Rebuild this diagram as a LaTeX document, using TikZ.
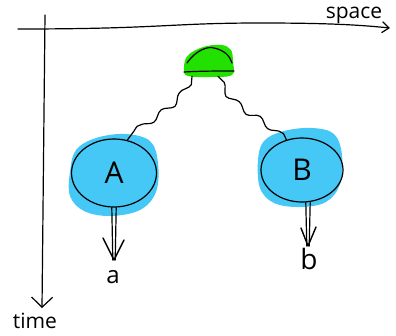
\documentclass[tikz,border=0pt]{standalone}
\usepackage{fontspec}
\setmainfont{Open Sans}
\usetikzlibrary{arrows.meta,decorations.pathmorphing,shapes.geometric,calc}
\definecolor{blobblue}{HTML}{45C8F5}
\definecolor{blobgreen}{HTML}{22E000}

\begin{document}
\begin{tikzpicture}[x=1pt,y=-1pt,line cap=round,line join=round,
  pen/.style={draw=black,line width=1.2pt},
  event/.style={ellipse,pen,inner sep=0pt,minimum width=85pt,minimum height=68pt,
    font=\fontsize{30}{30}\selectfont},
  outcome/.style={inner sep=0pt,font=\fontsize{24}{24}\selectfont},
  axislabel/.style={inner sep=0pt,font=\fontsize{21}{21}\selectfont},
  wiggle/.style={pen,decorate,decoration={snake,amplitude=3pt,segment length=26pt}},
  barb/.style={pen,line width=1.4pt}]
\useasboundingbox (0,0) rectangle (396,335);

% axes
\coordinate (origin) at (45,15);
\coordinate (tend) at (42,308);
\coordinate (sstart) at (18,29);
\coordinate (send) at (390,28);
\draw[pen,-{Straight Barb[length=10pt,width=21pt]}] (origin) -- (tend);
\draw[pen,-{Straight Barb[length=7pt,width=11pt]}] (sstart)
  .. controls (160,29) and (170,23) .. (260,23)
  .. controls (330,23) and (360,25) .. (send);
\node[axislabel] (space) at (354,15) {space};
\node[axislabel] (time) at (35,321) {time};

% coloured blobs
\fill[blobgreen] plot[smooth cycle,tension=0.6] coordinates
  {(184,70) (186,58) (194,51) (207,46) (222,45) (231,50) (233,62) (232,75) (210,77) (188,76)};
\fill[blobblue] plot[smooth cycle,tension=0.6] coordinates
  {(70,172) (76,150) (96,138) (125,134) (150,141) (158,163) (156,192) (140,210) (110,216) (84,211) (70,196)};
\fill[blobblue] plot[smooth cycle,tension=0.6] coordinates
  {(258,160) (264,141) (284,131) (312,128) (334,134) (342,155) (340,184) (326,202) (300,207) (274,203) (260,188)};

% source
\node[minimum width=50pt,minimum height=30pt,inner sep=0pt] (g) at (209,61) {};
\draw[pen] (187,63) .. controls (196,50) and (208,46) .. (214,48)
  .. controls (224,50) and (230,56) .. (232,63);
\draw[pen] (184,72) .. controls (200,71) and (220,71) .. (234,71);

% detectors
\node[event] (A) at (114,173) {A};
\node[event,minimum width=82pt,minimum height=64pt] (B) at (302,170) {B};

\draw[wiggle] ($(g.south)+(-17,0)$) to[out=-115,in=55] (A.68);
\draw[wiggle] ($(g.south)+(9,0)$) to[out=-65,in=125] (B.118);

% outcomes with double-shafted arrows
\node[outcome,anchor=north] (a) at (113,270) {a};
\node[outcome,anchor=north,font=\fontsize{28}{28}\selectfont] (b) at (309,248) {b};
\coordinate (atip) at ($(a.north)+(1,-10)$);
\coordinate (btip) at ($(b.north)+(-1,-2)$);
\draw[pen] ($(A.south-|atip)+(-2.2,0)$) -- ($(atip)+(-1.2,0)$);
\draw[pen] ($(A.south-|atip)+(2.2,0)$) -- ($(atip)+(1.2,0)$);
\draw[barb] ($(atip)+(-11,-22)$) -- (atip) -- ($(atip)+(10,-20)$);
\draw[pen] ($(B.south-|btip)+(-2.2,0)$) -- ($(btip)+(-1.2,0)$);
\draw[pen] ($(B.south-|btip)+(2.2,0)$) -- ($(btip)+(1.2,0)$);
\draw[barb] ($(btip)+(-7,-18)$) -- (btip) -- ($(btip)+(8,-19)$);
\end{tikzpicture}
\end{document}
